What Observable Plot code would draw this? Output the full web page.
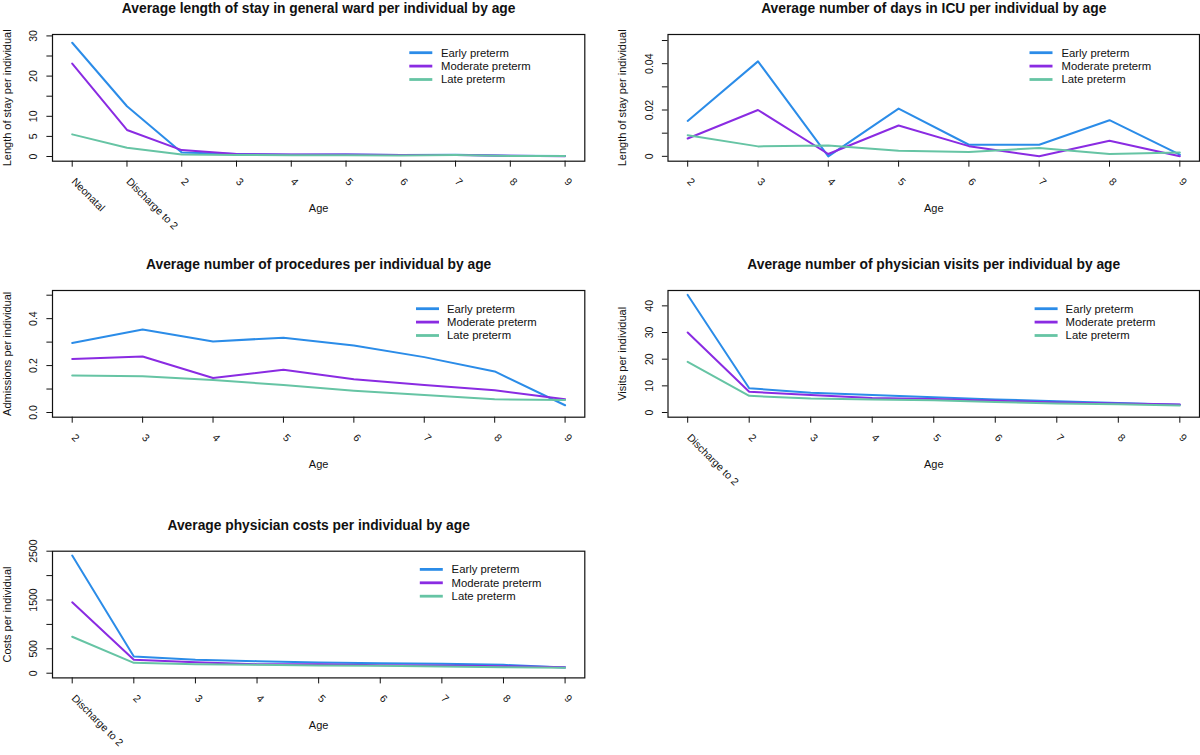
<!DOCTYPE html>
<html><head><meta charset="utf-8">
<script src="https://cdn.jsdelivr.net/npm/d3@7"></script>
<script src="https://cdn.jsdelivr.net/npm/@observablehq/plot@0.6"></script>
<style>
body{margin:0;background:#fff;}
#root{position:relative;width:1200px;height:755px;overflow:hidden;background:#fff;}
.panel{position:absolute;}
</style></head><body><div id="root"></div>
<script>
const FONT = '"Liberation Sans", Arial, Helvetica, sans-serif';
const seriesNames = ["Early preterm", "Moderate preterm", "Late preterm"];
const seriesColors = ["#2b8ce8", "#8a2be2", "#66c4a4"];

// Panel 1: general ward
const wardAges = ["Neonatal", "Discharge to 2", "2", "3", "4", "5", "6", "7", "8", "9"];
const wardEarly = [28.3, 12.5, 1.0, 0.6, 0.45, 0.5, 0.35, 0.45, 0.2, 0.1];
const wardModerate = [23.1, 6.6, 1.6, 0.6, 0.5, 0.5, 0.35, 0.4, 0.2, 0.05];
const wardLate = [5.5, 2.2, 0.5, 0.4, 0.3, 0.3, 0.25, 0.35, 0.15, 0.1];
const wardYTicks = [0, 5, 10, 15, 20, 25, 30];
const wardYLabels = ["0", "5", "10", "", "20", "", "30"];

// Panel 2: ICU
const icuAges = ["2", "3", "4", "5", "6", "7", "8", "9"];
const icuEarly = [0.0153, 0.0410, 0.0000, 0.0206, 0.0050, 0.0050, 0.0156, 0.0007];
const icuModerate = [0.0077, 0.0200, 0.0010, 0.0133, 0.0044, 0.0000, 0.0067, 0.0000];
const icuLate = [0.0091, 0.0043, 0.0047, 0.0024, 0.0019, 0.0036, 0.0010, 0.0017];
const icuYTicks = [0, 0.01, 0.02, 0.03, 0.04, 0.05];
const icuYLabels = ["0", "", "0.02", "", "0.04", ""];

// Panel 3: procedures
const procAges = ["2", "3", "4", "5", "6", "7", "8", "9"];
const procEarly = [0.296, 0.354, 0.303, 0.319, 0.286, 0.236, 0.175, 0.031];
const procModerate = [0.228, 0.239, 0.147, 0.182, 0.142, 0.117, 0.095, 0.057];
const procLate = [0.158, 0.155, 0.139, 0.117, 0.093, 0.075, 0.056, 0.053];
const procYTicks = [0, 0.1, 0.2, 0.3, 0.4, 0.5];
const procYLabels = ["0.0", "", "0.2", "", "0.4", ""];

// Panel 4: physician visits
const visitAges = ["Discharge to 2", "2", "3", "4", "5", "6", "7", "8", "9"];
const visitEarly = [44.1, 9.1, 7.4, 6.6, 5.75, 4.9, 4.25, 3.6, 2.9];
const visitModerate = [30.0, 7.75, 6.6, 5.4, 5.1, 4.4, 3.75, 3.4, 3.0];
const visitLate = [19.0, 6.25, 5.25, 4.9, 4.6, 3.9, 3.4, 3.1, 2.6];
const visitYTicks = [0, 10, 20, 30, 40];
const visitYLabels = ["0", "10", "20", "30", "40"];

// Panel 5: physician costs
const costAges = ["Discharge to 2", "2", "3", "4", "5", "6", "7", "8", "9"];
const costEarly = [2411, 342, 274, 247, 219, 205, 192, 171, 116];
const costModerate = [1452, 274, 226, 185, 185, 164, 158, 144, 123];
const costLate = [747, 212, 185, 171, 158, 151, 137, 123, 110];
const costYTicks = [0, 500, 1000, 1500, 2000, 2500];
const costYLabels = ["0", "500", "", "1500", "", "2500"];

const panels = [
  {title: "Average length of stay in general ward per individual by age", ylabel: "Length of stay per individual",
   ages: wardAges, series: [wardEarly, wardModerate, wardLate], yTicks: wardYTicks, yLabels: wardYLabels,
   yDomain: [-1.17, 30.35], left: 0, top: 0, ml: 52, mt: 34, bw: 532.3, height: 250, leg: {x: 357.3, tx: 389}},
  {title: "Average number of days in ICU per individual by age", ylabel: "Length of stay per individual",
   ages: icuAges, series: [icuEarly, icuModerate, icuLate], yTicks: icuYTicks, yLabels: icuYLabels,
   yDomain: [-0.0021, 0.0526], left: 600, top: 0, ml: 67.5, mt: 34, bw: 531.5, height: 250, leg: {x: 362, tx: 394}},
  {title: "Average number of procedures per individual by age", ylabel: "Admissions per individual",
   ages: procAges, series: [procEarly, procModerate, procLate], yTicks: procYTicks, yLabels: procYLabels,
   yDomain: [-0.02, 0.52], left: 0, top: 250, ml: 52, mt: 40, bw: 532.3, height: 250, leg: {x: 364, tx: 395}},
  {title: "Average number of physician visits per individual by age", ylabel: "Visits per individual",
   ages: visitAges, series: [visitEarly, visitModerate, visitLate], yTicks: visitYTicks, yLabels: visitYLabels,
   yDomain: [-1.76, 45.76], left: 600, top: 250, ml: 67.5, mt: 40, bw: 531.5, height: 250, leg: {x: 367.1, tx: 398.1}},
  {title: "Average physician costs per individual by age", ylabel: "Costs per individual",
   ages: costAges, series: [costEarly, costModerate, costLate], yTicks: costYTicks, yLabels: costYLabels,
   yDomain: [-96, 2500], left: 0, top: 500, ml: 52, mt: 50.7, bw: 532.3, height: 255, leg: {x: 367.8, tx: 399.6}}
];

const BOX_H = 126.7;
const root = document.getElementById("root");

for (const cfg of panels) {
  const n = cfg.ages.length;
  const idx = d3.range(n);
  const rows = [];
  cfg.series.forEach((vals, s) => vals.forEach((v, i) => rows.push({i, v, s: seriesNames[s]})));
  const svg = Plot.plot({
    width: 600,
    height: cfg.height,
    marginLeft: cfg.ml,
    marginRight: 600 - cfg.ml - cfg.bw,
    marginTop: cfg.mt,
    marginBottom: cfg.height - cfg.mt - BOX_H,
    style: {fontFamily: FONT, fontSize: "10.5px", color: "#111", background: "transparent", overflow: "visible"},
    x: {domain: [-0.04 * (n - 1), 1.04 * (n - 1)]},
    y: {domain: cfg.yDomain},
    color: {domain: seriesNames, range: seriesColors},
    marks: [
      Plot.line(rows, {x: "i", y: "v", z: "s", stroke: "s", strokeWidth: 2, strokeLinejoin: "round"}),
      Plot.frame({stroke: "#111", strokeWidth: 1.2}),
      Plot.axisY({ticks: cfg.yTicks, tickSize: 5.6, tickRotate: -90, tickPadding: 9.5,
        tickFormat: (d) => cfg.yLabels[cfg.yTicks.indexOf(d)], label: null, fontSize: 10.5}),
      Plot.axisX({ticks: idx, tickSize: 6, tickFormat: () => "", label: null}),
      Plot.text(idx, {x: (d) => d, text: (d) => cfg.ages[d], frameAnchor: "bottom", rotate: 45,
        textAnchor: "start", lineAnchor: "bottom", dx: -1.3, dy: 21, fontSize: 10.5, fill: "#111"}),
      Plot.text(["Age"], {text: (d) => d, frameAnchor: "bottom", dy: 47.5, textAnchor: "middle", lineAnchor: "middle", fontSize: 11}),
      Plot.text([cfg.ylabel], {text: (d) => d, frameAnchor: "left", dx: -45.5, rotate: -90, textAnchor: "middle", lineAnchor: "middle", fontSize: 11}),
      Plot.text([cfg.title], {text: (d) => d, frameAnchor: "top", dy: -21.3, textAnchor: "middle", lineAnchor: "bottom", fontWeight: "bold", fontSize: 13.8})
    ]
  });
  // legend (top-right inside the plot box)
  const g = d3.select(svg).append("g").attr("font-family", FONT).attr("font-size", 11.3).attr("text-anchor", "start");
  seriesNames.forEach((name, k) => {
    const y = cfg.mt + 18.7 + k * 13.4;
    g.append("line").attr("x1", cfg.ml + cfg.leg.x).attr("x2", cfg.ml + cfg.leg.x + 23)
      .attr("y1", y).attr("y2", y).attr("stroke", seriesColors[k]).attr("stroke-width", 2.8);
    g.append("text").attr("x", cfg.ml + cfg.leg.tx).attr("y", y).attr("dy", "0.35em")
      .attr("text-anchor", "start").attr("fill", "#111").text(name);
  });
  const div = document.createElement("div");
  div.className = "panel";
  div.style.left = cfg.left + "px";
  div.style.top = cfg.top + "px";
  div.appendChild(svg);
  root.appendChild(div);
}
</script></body></html>
